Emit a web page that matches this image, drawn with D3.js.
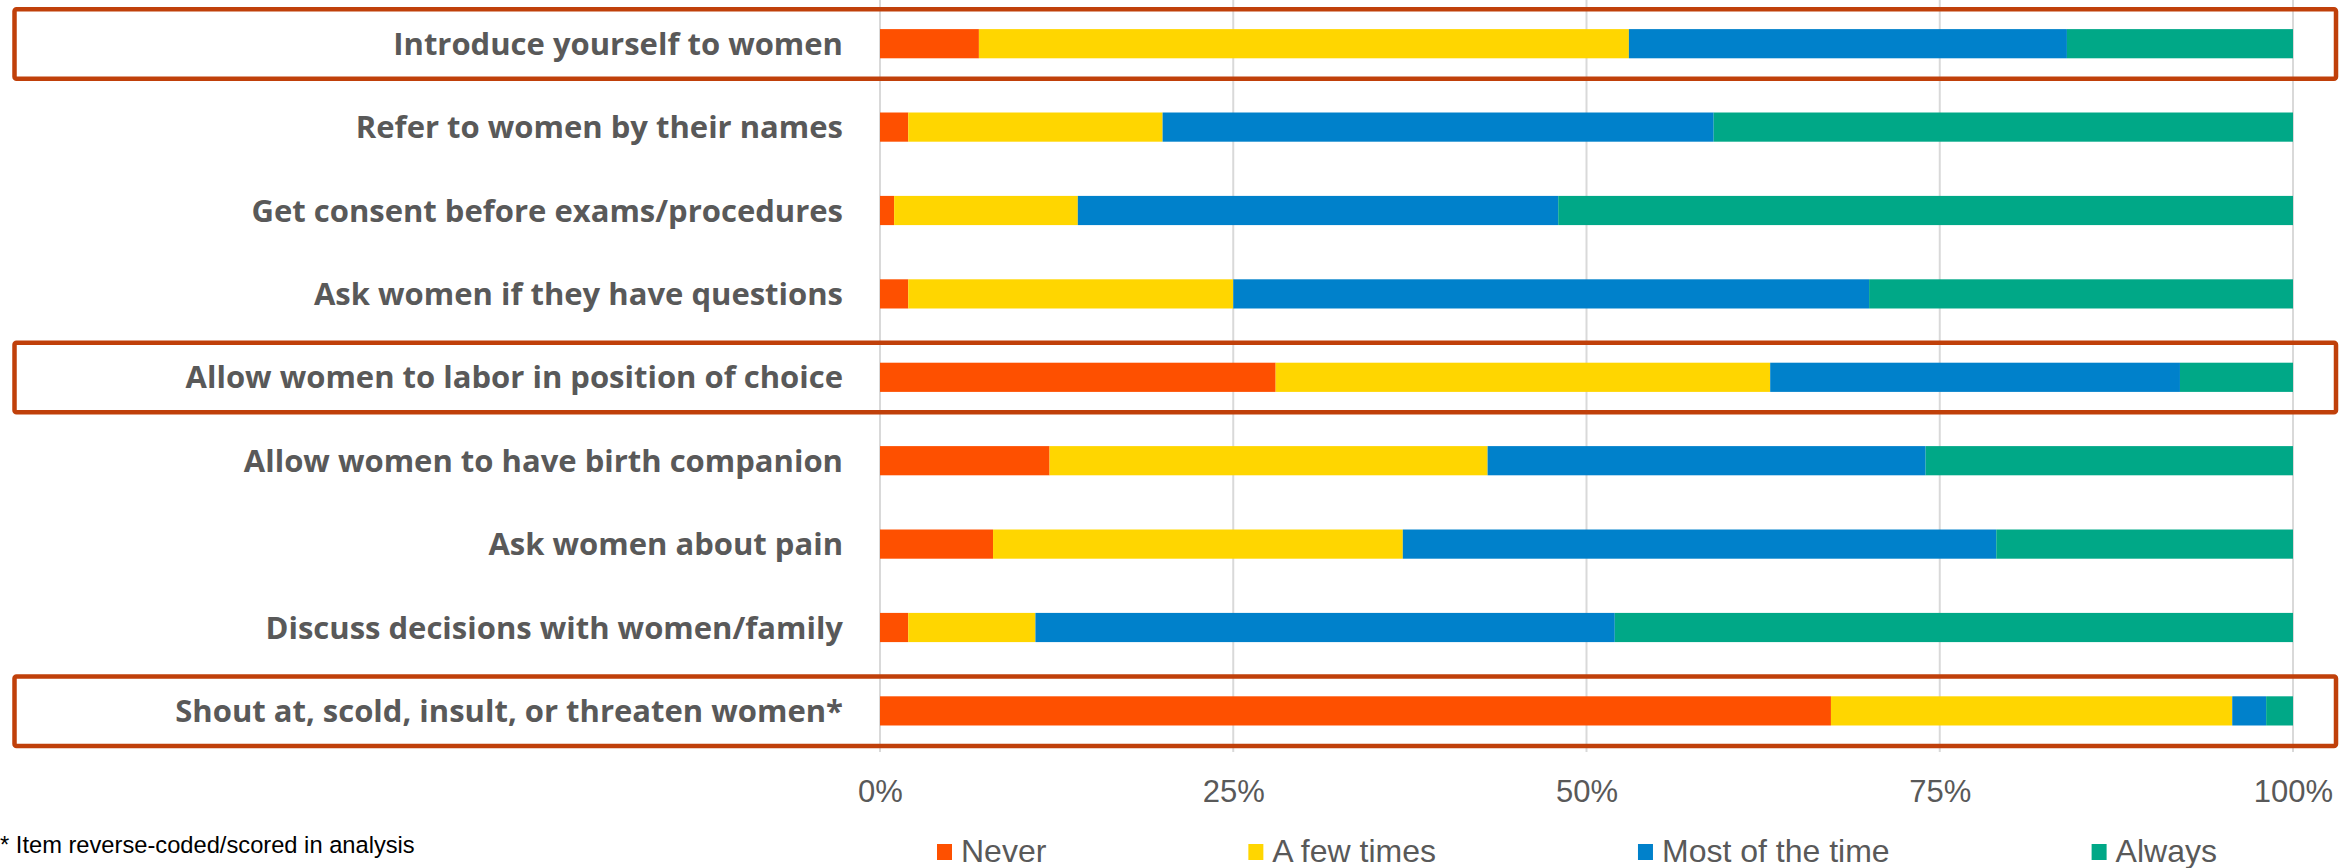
<!DOCTYPE html>
<html>
<head>
<meta charset="utf-8">
<script src="https://cdn.jsdelivr.net/npm/d3@7"></script>
<style>
    html, body { margin: 0; padding: 0; background: #fff; }
    svg { display: block; }
</style>
</head>
<body>
<div id="chart"></div>
<script>
const categories = [
    "Introduce yourself to women",
    "Refer to women by their names",
    "Get consent before exams/procedures",
    "Ask women if they have questions",
    "Allow women to labor in position of choice",
    "Allow women to have birth companion",
    "Ask women about pain",
    "Discuss decisions with women/family",
    "Shout at, scold, insult, or threaten women*"
];
const seriesNames = ["Never", "A few times", "Most of the time", "Always"];
const never = [7, 2, 1, 2, 28, 12, 8, 2, 67.3];
const fewTimes = [46, 18, 13, 23, 35, 31, 29, 9, 28.4];
const mostOfTheTime = [31, 39, 34, 45, 29, 31, 42, 41, 2.4];
const always = [16, 41, 52, 30, 8, 26, 21, 48, 1.9];
const tickValues = [0, 25, 50, 75, 100];
const highlighted = [
    "Introduce yourself to women",
    "Allow women to labor in position of choice",
    "Shout at, scold, insult, or threaten women*"
];
const footnote = "* Item reverse-coded/scored in analysis";

const colors = ["#FE5000", "#FFD600", "#0081CB", "#00A887"];

const WIDTH = 2351;
const HEIGHT = 868;

function drawChart() {
    var svg = d3.select("#chart").append("svg")
        .attr("width", WIDTH)
        .attr("height", HEIGHT);

    var rows = categories.map(function (name, i) {
        return {
            name: name,
            "Never": never[i],
            "A few times": fewTimes[i],
            "Most of the time": mostOfTheTime[i],
            "Always": always[i]
        };
    });

    var x = d3.scaleLinear().domain([0, 100]).range([880, 2293]);
    var y = d3.scaleBand()
        .domain(categories)
        .range([2, 752.6])
        .paddingInner(0.65)
        .paddingOuter(0.325);

    // vertical gridlines
    svg.append("g")
        .selectAll("line")
        .data(tickValues)
        .join("line")
        .attr("x1", function (d) { return x(d); })
        .attr("x2", function (d) { return x(d); })
        .attr("y1", 0)
        .attr("y2", 752)
        .attr("stroke", "#d9d9d9")
        .attr("stroke-width", 2);

    var stacked = d3.stack().keys(seriesNames)(rows);

    svg.append("g")
        .selectAll("g")
        .data(stacked)
        .join("g")
        .attr("fill", function (d, i) { return colors[i]; })
        .selectAll("rect")
        .data(function (d) { return d; })
        .join("rect")
        .attr("x", function (d) { return x(d[0]); })
        .attr("width", function (d) { return x(d[1]) - x(d[0]); })
        .attr("y", function (d) { return y(d.data.name); })
        .attr("height", y.bandwidth());

    // category labels
    svg.append("g")
        .selectAll("text")
        .data(categories)
        .join("text")
        .attr("x", 843)
        .attr("y", function (d) { return y(d) + y.bandwidth() / 2 + 11; })
        .attr("text-anchor", "end")
        .attr("font-family", "'Open Sans', sans-serif")
        .attr("font-weight", "bold")
        .attr("font-size", "31px")
        .attr("fill", "#595959")
        .text(function (d) { return d; });

    // highlight boxes
    svg.append("g")
        .selectAll("rect")
        .data(highlighted)
        .join("rect")
        .attr("x", 14.5)
        .attr("y", function (d) { return y(d) + y.bandwidth() / 2 - 34.5; })
        .attr("width", 2336 - 14.5)
        .attr("height", 69.5)
        .attr("rx", 2)
        .attr("fill", "none")
        .attr("stroke", "#C0400A")
        .attr("stroke-width", 4.5);

    // x axis labels
    var axis = d3.axisBottom(x)
        .tickValues(tickValues)
        .tickSize(0)
        .tickPadding(28)
        .tickFormat(function (d) { return d + "%"; });

    var axisGroup = svg.append("g")
        .attr("transform", "translate(0,752)")
        .call(axis);
    axisGroup.select(".domain").remove();
    axisGroup.selectAll("text")
        .attr("font-family", "'Liberation Sans', Arial, sans-serif")
        .attr("font-size", "31px")
        .attr("fill", "#595959");

    // legend
    var legend = svg.append("g");
    var cursor = 937;
    seriesNames.forEach(function (name, i) {
        legend.append("rect")
            .attr("x", cursor)
            .attr("y", 844)
            .attr("width", 15)
            .attr("height", 16)
            .attr("fill", colors[i]);
        var label = legend.append("text")
            .attr("x", cursor + 24)
            .attr("y", 862)
            .attr("font-family", "'Liberation Sans', Arial, sans-serif")
            .attr("font-size", "32px")
            .attr("fill", "#595959")
            .text(name);
        cursor = cursor + 24 + label.node().getComputedTextLength() + 202;
    });

    svg.append("text")
        .attr("x", 0)
        .attr("y", 853)
        .attr("font-family", "'Liberation Sans', Arial, sans-serif")
        .attr("font-size", "23.7px")
        .attr("fill", "#000")
        .text(footnote);
}

drawChart();
</script>
</body>
</html>
